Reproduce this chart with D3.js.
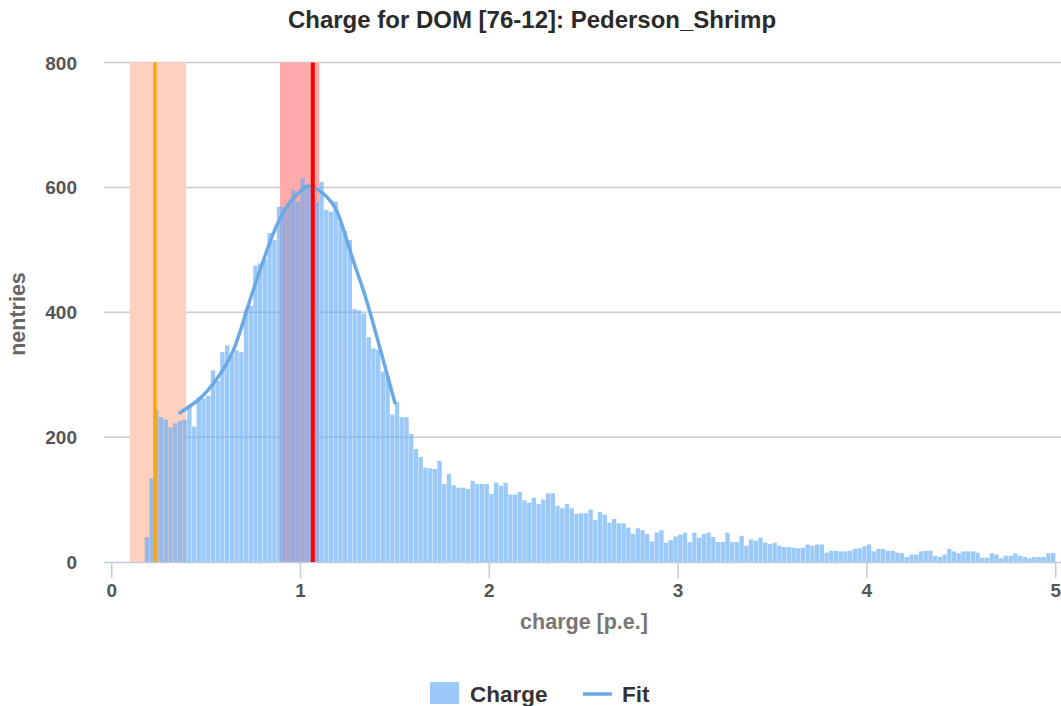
<!DOCTYPE html>
<html>
<head>
<meta charset="utf-8">
<script src="https://cdn.jsdelivr.net/npm/d3@7"></script>
<style>
  body { margin: 0; background: #fff; }
  text { font-family: "Liberation Sans", Arial, sans-serif; font-weight: bold; }
</style>
</head>
<body>
<svg width="1061" height="706"></svg>
<script>
// Histogram binning (lower edge of first bin, bin width)
const binStart = 0.175,
      binWidth = 0.025;

// Entries per bin
const counts = [
  40,134,243,232,228,216,222,226,228,251, 217,264,262,266,307,290,336,347,331,339,
  336,403,410,475,478,485,527,516,569,569, 575,596,577,615,604,598,577,609,564,561,
  577,545,530,516,405,403,398,360,342,340, 305,298,236,256,232,232,
  205,181,168,151,150,149,162,125,141,123, 119,119,117,130,125,125,
  125,109,127,122,127,108,108,112,99,95, 103,93,100,110,110,90,86,93,86,77,
  78,78,84,67,80,76,63,69,62,62, 55,45,54,51,45,33,47,51,31,35,
  41,44,47,32,47,39,45,47,40,32, 32,47,32,32,42,26,36,34,39,31, 29,31,
  26,24,24,23,22,23,28,26,28,28, 15,18,18,17,17,18,21,22,25,28,
  17,21,21,18,18,15,14,8,12,12, 17,18,18,10,8,12,21,17,14,17,
  17,17,15,7,7,14,12,6,10,10, 14,10,8,6,8,8,8,14,14
];

// Fit curve, points [charge, nentries]
const fitX = [0.362,0.468,0.556,0.644,0.715,0.785,0.856,0.927,0.997,1.050,1.12,1.194,1.262,1.335,1.406,1.50];
const fitY = [239,262,293,339,403,467,526,569,593,602,590,561,499,433,359,255];

// Marker lines and shaded ranges
const orangeLine = 0.229, orangeBand = [0.097, 0.394];
const redLine = 1.065,    redBand = [0.891, 1.100];

const xTicks = [0, 1, 2, 3, 4, 5],
      yTicks = [0, 200, 400, 600, 800];

const svg = d3.select('svg');

const x = d3.scaleLinear().domain([0, 5]).range([111.7, 1055.7]);
const y = d3.scaleLinear().domain([0, 800]).range([562, 62.5]);

const plotLeft = 104, plotRight = 1061;

// Title
svg.append('text')
  .attr('x', 532).attr('y', 28)
  .attr('text-anchor', 'middle')
  .attr('font-size', 24)
  .attr('fill', '#2a2a2a')
  .text('Charge for DOM [76-12]: Pederson_Shrimp');

// Horizontal gridlines
svg.append('g')
  .selectAll('line')
  .data(yTicks.filter(d => d > 0))
  .enter().append('line')
  .attr('x1', plotLeft).attr('x2', plotRight)
  .attr('y1', d => y(d)).attr('y2', d => y(d))
  .attr('stroke', '#cccccc').attr('stroke-width', 1.5);

// Shaded ranges behind the bars
svg.append('rect')
  .attr('x', x(orangeBand[0])).attr('width', x(orangeBand[1]) - x(orangeBand[0]))
  .attr('y', y(800)).attr('height', y(0) - y(800))
  .attr('fill', '#fdd0bf');
svg.append('rect')
  .attr('x', x(redBand[0])).attr('width', x(redBand[1]) - x(redBand[0]))
  .attr('y', y(800)).attr('height', y(0) - y(800))
  .attr('fill', '#ffabab');

// Bars (semi transparent so gridlines and bands show through)
const bw = x(binWidth) - x(0);
svg.append('g')
  .selectAll('rect')
  .data(counts)
  .enter().append('rect')
  .attr('x', (d, i) => x(binStart + i * binWidth))
  .attr('width', bw - 0.4)
  .attr('y', d => y(d))
  .attr('height', d => y(0) - y(d))
  .attr('fill', 'rgb(100,172,247)')
  .attr('fill-opacity', 0.65);

// X axis line and ticks
svg.append('line')
  .attr('x1', plotLeft).attr('x2', plotRight)
  .attr('y1', y(0) + 0.5).attr('y2', y(0) + 0.5)
  .attr('stroke', '#c3ccd9').attr('stroke-width', 1.5);
svg.append('g')
  .selectAll('line')
  .data(xTicks)
  .enter().append('line')
  .attr('x1', d => x(d)).attr('x2', d => x(d))
  .attr('y1', y(0)).attr('y2', y(0) + 16)
  .attr('stroke', '#c3ccd9').attr('stroke-width', 1.5);

// Vertical marker lines
svg.append('line')
  .attr('x1', x(orangeLine)).attr('x2', x(orangeLine))
  .attr('y1', y(800)).attr('y2', y(0))
  .attr('stroke', '#ffa500').attr('stroke-width', 3.5);

// Fit curve
const fitPts = fitX.map((d, i) => [d, fitY[i]]);
svg.append('path')
  .datum(fitPts)
  .attr('d', d3.line().x(d => x(d[0])).y(d => y(d[1])).curve(d3.curveNatural))
  .attr('fill', 'none')
  .attr('stroke', '#6aa8e6')
  .attr('stroke-width', 3.5)
  .attr('stroke-linecap', 'round');

svg.append('line')
  .attr('x1', x(redLine)).attr('x2', x(redLine))
  .attr('y1', y(800)).attr('y2', y(0))
  .attr('stroke', '#ff0000').attr('stroke-width', 4);

// Tick labels
svg.append('g')
  .selectAll('text')
  .data(yTicks)
  .enter().append('text')
  .attr('x', 77).attr('y', d => y(d) + 7)
  .attr('text-anchor', 'end')
  .attr('font-size', 19)
  .attr('fill', '#555')
  .text(d => d);
svg.append('g')
  .selectAll('text')
  .data(xTicks)
  .enter().append('text')
  .attr('x', d => x(d)).attr('y', 597)
  .attr('text-anchor', 'middle')
  .attr('font-size', 19)
  .attr('fill', '#555')
  .text(d => d);

// Axis titles
svg.append('text')
  .attr('x', 584).attr('y', 629)
  .attr('text-anchor', 'middle')
  .attr('font-size', 21.5)
  .attr('fill', '#777')
  .text('charge [p.e.]');
svg.append('text')
  .attr('transform', 'translate(25,314) rotate(-90)')
  .attr('text-anchor', 'middle')
  .attr('font-size', 21.5)
  .attr('fill', '#666')
  .text('nentries');

// Legend
svg.append('rect')
  .attr('x', 430).attr('y', 682).attr('width', 29).attr('height', 22)
  .attr('fill', 'rgb(100,172,247)').attr('fill-opacity', 0.65);
svg.append('text')
  .attr('x', 470).attr('y', 702)
  .attr('font-size', 22.5)
  .attr('fill', '#333')
  .text('Charge');
svg.append('line')
  .attr('x1', 583).attr('x2', 612).attr('y1', 694).attr('y2', 694)
  .attr('stroke', '#6aa8e6').attr('stroke-width', 3.5);
svg.append('text')
  .attr('x', 622).attr('y', 702)
  .attr('font-size', 22.5)
  .attr('fill', '#333')
  .text('Fit');
</script>
</body>
</html>
